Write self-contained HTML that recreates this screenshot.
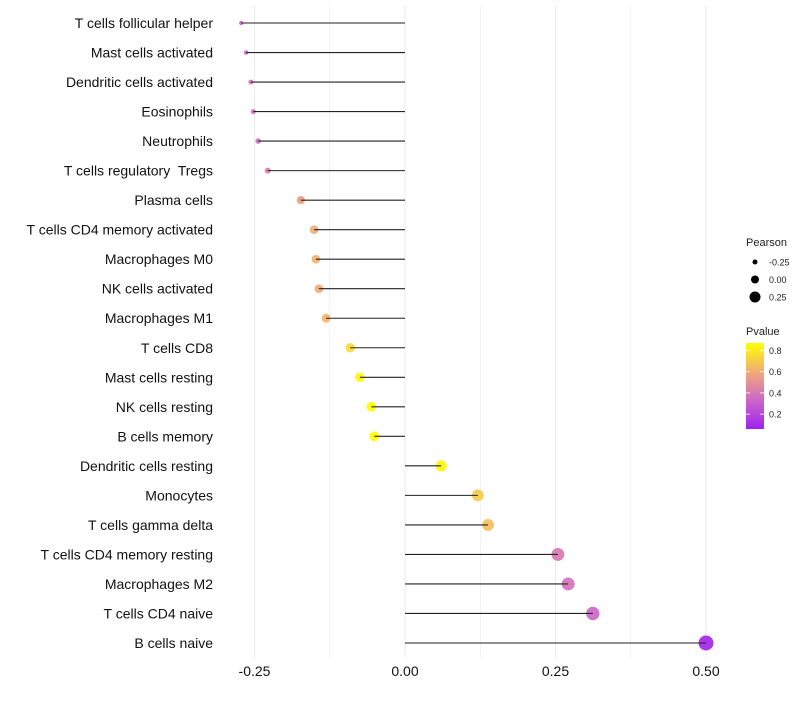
<!DOCTYPE html>
<html><head><meta charset="utf-8"><style>
body{margin:0;background:#fff}
svg{font-family:"Liberation Sans",Arial,sans-serif}
text{white-space:pre}
</style></head><body>
<svg id="c" width="800" height="700"></svg>
<script>
const categories=["T cells follicular helper","Mast cells activated","Dendritic cells activated","Eosinophils","Neutrophils","T cells regulatory  Tregs","Plasma cells","T cells CD4 memory activated","Macrophages M0","NK cells activated","Macrophages M1","T cells CD8","Mast cells resting","NK cells resting","B cells memory","Dendritic cells resting","Monocytes","T cells gamma delta","T cells CD4 memory resting","Macrophages M2","T cells CD4 naive","B cells naive"];
const pearson=[-0.272,-0.264,-0.256,-0.252,-0.244,-0.228,-0.173,-0.151,-0.148,-0.143,-0.131,-0.091,-0.075,-0.056,-0.051,0.060,0.121,0.138,0.254,0.271,0.312,0.500];
const pvalues=[0.33,0.36,0.38,0.38,0.36,0.42,0.56,0.6,0.62,0.6,0.63,0.75,0.84,0.87,0.87,0.84,0.7,0.66,0.4,0.38,0.33,0.08];
const xTicks=[-0.25,0,0.25,0.5];
const xTickLabels=["-0.25","0.00","0.25","0.50"];
const sizeTicks=[-0.25,0,0.25];
const sizeTickLabels=["-0.25","0.00","0.25"];
const colorTicks=[0.2,0.4,0.6,0.8];

const NS="http://www.w3.org/2000/svg";
const svg=document.getElementById('c');
function el(t,a,p){const e=document.createElementNS(NS,t);for(const k in a)e.setAttribute(k,a[k]);(p||svg).appendChild(e);return e;}
const x=v=>405+v*602;
const y=i=>23+i*(620/21);
const rk=[[-0.28,2],[-0.25,2.6],[-0.17,4.2],[0.06,5.6],[0.5,7.5]];
function r(v){if(v<=rk[0][0])return rk[0][1];for(let i=1;i<rk.length;i++){if(v<=rk[i][0]){const a=rk[i-1],b=rk[i];return a[1]+(b[1]-a[1])*(v-a[0])/(b[0]-a[0]);}}return 7.5;}
const stops=[[0,[160,32,240]],[0.33,[204,102,200]],[0.66,[240,170,120]],[1,[255,255,0]]];
function col(p){let t=(p-0.06)/(0.87-0.06);t=Math.max(0,Math.min(1,t));
for(let i=1;i<stops.length;i++){if(t<=stops[i][0]){const a=stops[i-1],b=stops[i];const f=(t-a[0])/(b[0]-a[0]);
return 'rgb('+a[1].map((c,j)=>Math.round(c+(b[1][j]-c)*f)).join(',')+')';}}return 'rgb(255,255,0)';}

for(let v=-0.25;v<=0.501;v+=0.125){const g=el('line',{x1:x(v),x2:x(v),y1:5,y2:658,stroke:'#ebebeb','stroke-width':Math.abs(v*4-Math.round(v*4))<1e-6?1:0.6});
}
xTicks.forEach((v,i)=>{const t=el('text',{x:x(v),y:676,'text-anchor':'middle','font-size':14,fill:'#111'});t.textContent=xTickLabels[i];
});
categories.forEach((c,i)=>{
const t=el('text',{x:213,y:y(i)+5,'text-anchor':'end','font-size':14,fill:'#111'});t.textContent=c;

const d=el('circle',{cx:x(pearson[i]),cy:y(i),r:r(pearson[i]),fill:col(pvalues[i]),opacity:0.92});

const l=el('line',{x1:x(0),x2:x(pearson[i]),y1:y(i),y2:y(i),stroke:'#222','stroke-width':1.1});

});
const lg=el('g',{});
let tt=el('text',{x:746,y:246,'font-size':11,fill:'#222'},lg);tt.textContent='Pearson';
const legR=[2.5,4,5.5];
sizeTicks.forEach((v,i)=>{const cy=262+i*17.5;
const c=el('circle',{cx:755,cy:cy,r:legR[i],fill:'#000'},lg);
const t=el('text',{x:769,y:cy+3.5,'font-size':9,fill:'#222'},lg);t.textContent=sizeTickLabels[i];
});
const cg=el('g',{});
tt=el('text',{x:746,y:335,'font-size':11,fill:'#222'},cg);tt.textContent='Pvalue';
const defs=el('defs',{});const gr=el('linearGradient',{id:'pg',x1:0,y1:1,x2:0,y2:0},defs);
stops.forEach(s=>el('stop',{offset:s[0],'stop-color':'rgb('+s[1].join(',')+')'},gr));
const bar=el('rect',{x:746,y:343,width:18,height:86,fill:'url(#pg)'},cg);
colorTicks.forEach(v=>{const yy=429-(v-0.06)/(0.87-0.06)*86;
el('line',{x1:746,x2:750,y1:yy,y2:yy,stroke:'#fff','stroke-width':0.8},cg);el('line',{x1:760,x2:764,y1:yy,y2:yy,stroke:'#fff','stroke-width':0.8},cg);
const t=el('text',{x:769,y:yy+3.5,'font-size':9,fill:'#222'},cg);t.textContent=v.toFixed(1);
});
</script></body></html>
